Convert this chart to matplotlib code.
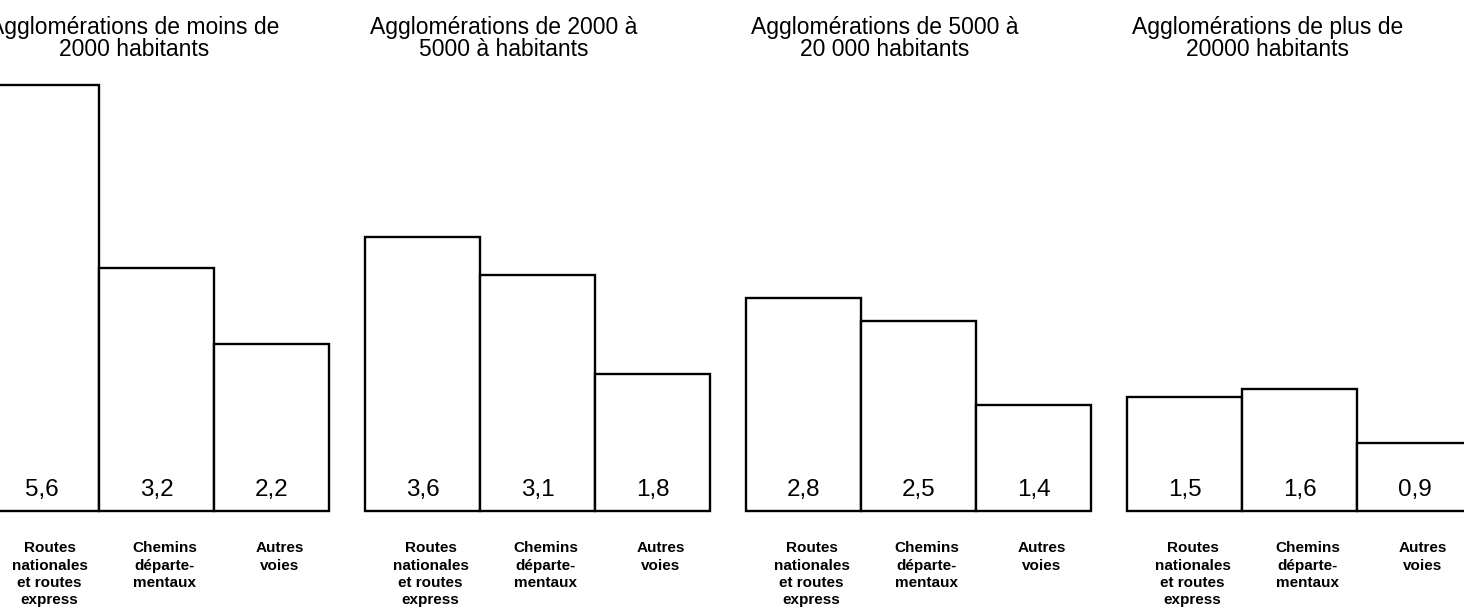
import matplotlib.pyplot as plt
import numpy as np

plt.rcParams['font.family'] = ['Liberation Sans', 'DejaVu Sans']

groups = ["Agglomérations de moins de\n2000 habitants",
          "Agglomérations de 2000 à\n5000 à habitants",
          "Agglomérations de 5000 à\n20 000 habitants",
          "Agglomérations de plus de\n20000 habitants"]
categories = ["Routes\nnationales\net routes\nexpress",
              "Chemins\ndéparte-\nmentaux",
              "Autres\nvoies"]
values = [[5.6, 3.2, 2.2],
          [3.6, 3.1, 1.8],
          [2.8, 2.5, 1.4],
          [1.5, 1.6, 0.9]]
value_labels = [["5,6", "3,2", "2,2"],
                ["3,6", "3,1", "1,8"],
                ["2,8", "2,5", "1,4"],
                ["1,5", "1,6", "0,9"]]

fig = plt.figure(figsize=(14.64, 6.07), dpi=100)
ax = fig.add_axes([0, 0, 1, 1])

stride = 3.313  # distance between group starts, in bar widths
for g, vals in enumerate(values):
    left = g * stride
    x = left + np.arange(3) + 0.5
    ax.bar(x, vals, width=1.0, facecolor='white', edgecolor='black',
           linewidth=1.7, zorder=2)
    for xi, lab in zip(x, value_labels[g]):
        ax.text(xi, 0.27, lab, ha='center', va='center', fontsize=17.5)
    for xi, cat in zip(x, categories):
        ax.text(xi + 0.07, -0.40, cat, ha='center', va='top', fontsize=11,
                fontweight='bold', linespacing=1.3)
    ax.text(left + 0.04, 6.52, groups[g], ha='left', va='top',
            fontsize=16.5, linespacing=0.95, multialignment='center')

ax.set_xlim(0.139, 12.87)
ax.set_ylim(-1.263, 6.724)
ax.axis('off')

fig.savefig('out.png', dpi=100)
